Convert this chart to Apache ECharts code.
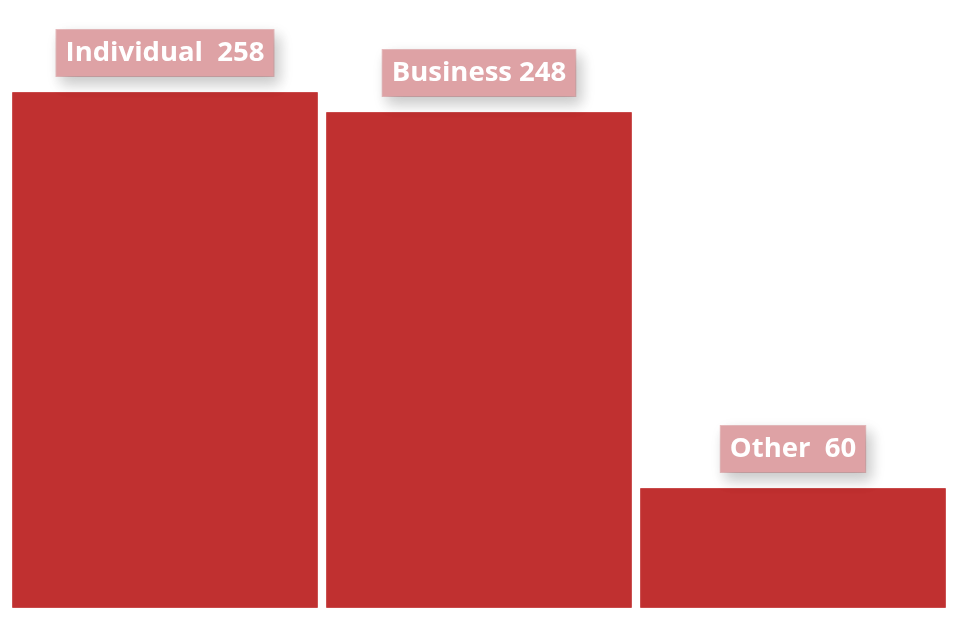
<!DOCTYPE html>
<html>
<head>
<meta charset="utf-8">
<script src="https://cdn.jsdelivr.net/npm/echarts@6/dist/echarts.min.js"></script>
<style>html,body{margin:0;padding:0;background:#fff}#c{width:960px;height:640px}</style>
</head>
<body>
<div id="c"></div>
<script>
const categories = ['Individual', 'Business', 'Other'];
const values = [258, 248, 60];

const chart = echarts.init(document.getElementById('c'));
chart.setOption({
  animation: false,
  grid: { left: 8, right: 10, top: 92, bottom: 32 },
  xAxis: {
    type: 'category',
    data: categories,
    axisLine: { show: false },
    axisTick: { show: false },
    axisLabel: { show: false }
  },
  yAxis: {
    type: 'value',
    min: 0,
    max: 258,
    show: false,
    splitLine: { show: false }
  },
  series: [{
    type: 'bar',
    data: values,
    barCategoryGap: '2.6%',
    itemStyle: { color: '#c03030', borderColor: '#c84a4a', borderWidth: 1 },
    label: {
      show: true,
      position: 'top',
      distance: 16,
      formatter: p => p.name + (p.name === 'Business' ? ' ' : '  ') + p.value,
      color: '#ffffff',
      fontFamily: 'Open Sans',
      fontWeight: 'bold',
      fontSize: 27.5,
      lineHeight: 30,
      backgroundColor: '#dea2a5',
      borderColor: '#e8bcbe',
      borderWidth: 1,
      padding: [8, 9],
      shadowColor: 'rgba(0,0,0,0.22)',
      shadowBlur: 14,
      shadowOffsetX: 5,
      shadowOffsetY: 7
    }
  }]
});
</script>
</body>
</html>
